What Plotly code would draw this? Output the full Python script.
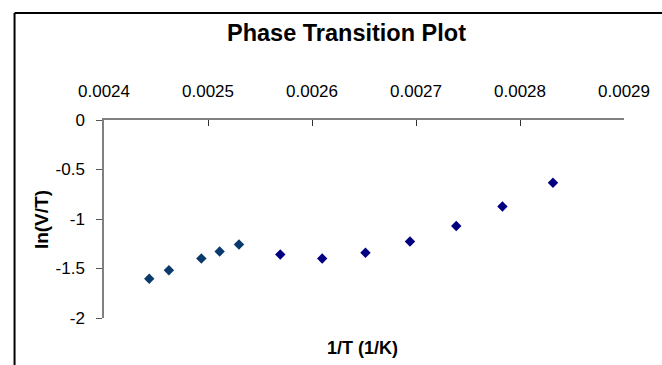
import plotly.graph_objects as go

# Data
inv_T_a = [0.0024435, 0.0024624, 0.0024936, 0.0025112, 0.0025298]
ln_VT_a = [-1.604, -1.517, -1.399, -1.328, -1.258]
inv_T_b = [0.0025695, 0.0026098, 0.0026514, 0.0026942, 0.0027387, 0.0027831, 0.0028317]
ln_VT_b = [-1.359, -1.399, -1.341, -1.227, -1.070, -0.873, -0.634]

x_tick_vals = [0.0024, 0.0025, 0.0026, 0.0027, 0.0028, 0.0029]
x_tick_text = ["0.0024", "0.0025", "0.0026", "0.0027", "0.0028", "0.0029"]
y_tick_vals = [0, -0.5, -1, -1.5, -2]
y_tick_text = ["0", "-0.5", "-1", "-1.5", "-2"]

FONT = "Arial, Liberation Sans, sans-serif"

fig = go.Figure()
fig.add_trace(go.Scatter(x=inv_T_a, y=ln_VT_a, mode="markers",
                         marker=dict(symbol="diamond", size=8, color="#0a3a6c"),
                         showlegend=False))
fig.add_trace(go.Scatter(x=inv_T_b, y=ln_VT_b, mode="markers",
                         marker=dict(symbol="diamond", size=8, color="#000080"),
                         showlegend=False))

fig.update_layout(
    width=662, height=365,
    margin=dict(l=104, r=29, t=120, b=47),
    paper_bgcolor="white", plot_bgcolor="white",
    font=dict(family=FONT, color="black"),
    title=dict(text="Phase Transition Plot", x=346.5 / 662, xanchor="center",
               y=1 - 32.5 / 365, yanchor="middle",
               font=dict(family=FONT, size=23.5, weight="bold", color="black")),
    xaxis=dict(range=[0.0024, 0.0029], side="top", tickvals=x_tick_vals,
               ticktext=x_tick_text, ticks="inside", ticklen=6, tickcolor="#333",
               showline=True, linecolor="#808080", linewidth=1.5,
               showgrid=False, zeroline=False,
               tickfont=dict(family=FONT, size=17, color="black"),
               ticklabelstandoff=14),
    yaxis=dict(range=[-2, 0], tickvals=y_tick_vals, ticktext=y_tick_text,
               ticks="outside", ticklen=6, tickcolor="#555",
               showline=True, linecolor="#808080", linewidth=1.5,
               showgrid=False, zeroline=False,
               tickfont=dict(family=FONT, size=17, color="black"),
               ticklabelstandoff=8),
    shapes=[
        dict(type="line", xref="paper", yref="paper",
             x0=(13 - 104) / 529, x1=(720 - 104) / 529,
             y0=(318 - 13) / 198, y1=(318 - 13) / 198,
             line=dict(color="black", width=2)),
        dict(type="line", xref="paper", yref="paper",
             x0=(13 - 104) / 529, x1=(13 - 104) / 529,
             y0=(318 - 13) / 198, y1=(318 - 420) / 198,
             line=dict(color="black", width=2)),
    ],
    annotations=[
        dict(text="1/T (1/K)", xref="paper", yref="paper",
             x=(367 - 104) / 529, y=(318 - 348) / 198,
             xanchor="center", yanchor="middle", showarrow=False,
             font=dict(family=FONT, size=18, weight="bold", color="black")),
        dict(text="ln(V/T)", xref="paper", yref="paper",
             x=(40 - 104) / 529, y=(318 - 220) / 198, textangle=-90,
             xanchor="center", yanchor="middle", showarrow=False,
             font=dict(family=FONT, size=19, weight="bold", color="black")),
    ],
)

fig.write_html("out.html")
